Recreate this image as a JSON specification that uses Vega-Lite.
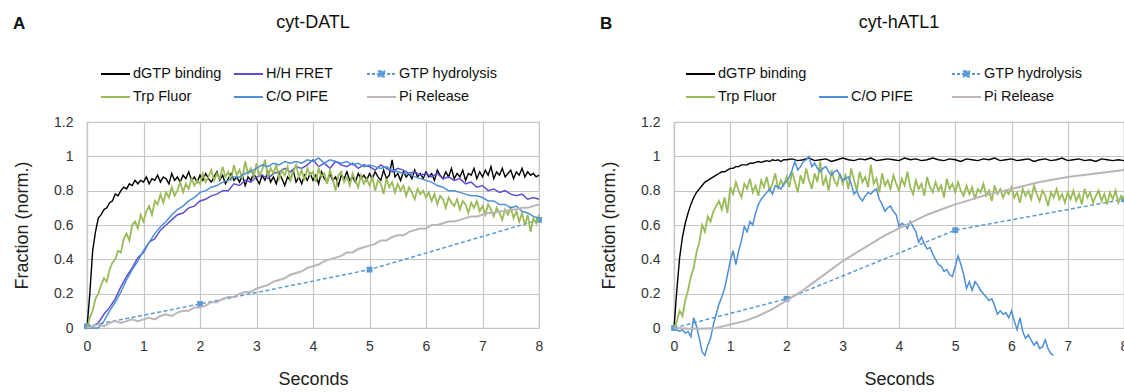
{
"$schema": "https://vega.github.io/schema/vega-lite/v6.json",
"padding": {"left": 12, "top": 13, "right": 0, "bottom": 0},
"background": "white",
"config": {
  "font": "Liberation Sans",
  "view": {"stroke": "#c6c6c6", "strokeWidth": 1.2},
  "axis": {"gridColor": "#c6c6c6", "gridWidth": 1.2, "domainColor": "#c6c6c6", "domainWidth": 1.2, "ticks": false, "labelFont": "Liberation Sans", "labelFontSize": 14, "labelColor": "#333333", "titleFont": "Liberation Sans", "titleFontSize": 18, "titleFontWeight": "normal", "titleColor": "#222222", "labelFlush": false},
  "title": {"font": "Liberation Sans", "fontWeight": "normal", "color": "#111111"},
  "legend": {"padding": 0}
},
"resolve": {"scale": {"color": "independent", "x": "independent", "y": "independent"}, "legend": {"color": "independent"}},
"spacing": 55,
"datasets": {
"A_dgtp": [{"t":0,"v":0},{"t":0.05,"v":0.2},{"t":0.1,"v":0.45},{"t":0.15,"v":0.56},{"t":0.2,"v":0.64},{"t":0.25,"v":0.66},{"t":0.3,"v":0.69},{"t":0.35,"v":0.7},{"t":0.4,"v":0.73},{"t":0.45,"v":0.74},{"t":0.5,"v":0.78},{"t":0.55,"v":0.77},{"t":0.6,"v":0.8},{"t":0.65,"v":0.82},{"t":0.7,"v":0.81},{"t":0.75,"v":0.84},{"t":0.8,"v":0.83},{"t":0.85,"v":0.86},{"t":0.9,"v":0.84},{"t":0.95,"v":0.86},
{"t":1,"v":0.85},{"t":1.05,"v":0.88},{"t":1.1,"v":0.84},{"t":1.15,"v":0.87},{"t":1.2,"v":0.86},{"t":1.25,"v":0.89},{"t":1.3,"v":0.85},{"t":1.35,"v":0.88},{"t":1.4,"v":0.87},{"t":1.45,"v":0.84},{"t":1.5,"v":0.9},{"t":1.55,"v":0.86},{"t":1.6,"v":0.88},{"t":1.65,"v":0.85},{"t":1.7,"v":0.89},{"t":1.75,"v":0.87},{"t":1.8,"v":0.91},{"t":1.85,"v":0.86},{"t":1.9,"v":0.88},{"t":1.95,"v":0.85},
{"t":2,"v":0.89},{"t":2.05,"v":0.86},{"t":2.1,"v":0.9},{"t":2.15,"v":0.87},{"t":2.2,"v":0.85},{"t":2.25,"v":0.88},{"t":2.3,"v":0.91},{"t":2.35,"v":0.86},{"t":2.4,"v":0.89},{"t":2.45,"v":0.84},{"t":2.5,"v":0.87},{"t":2.55,"v":0.9},{"t":2.6,"v":0.86},{"t":2.65,"v":0.88},{"t":2.7,"v":0.85},{"t":2.75,"v":0.89},{"t":2.8,"v":0.83},{"t":2.85,"v":0.88},{"t":2.9,"v":0.86},{"t":2.95,"v":0.9},
{"t":3,"v":0.87},{"t":3.05,"v":0.84},{"t":3.1,"v":0.89},{"t":3.15,"v":0.86},{"t":3.2,"v":0.91},{"t":3.25,"v":0.85},{"t":3.3,"v":0.88},{"t":3.35,"v":0.84},{"t":3.4,"v":0.9},{"t":3.45,"v":0.87},{"t":3.5,"v":0.83},{"t":3.55,"v":0.88},{"t":3.6,"v":0.86},{"t":3.65,"v":0.92},{"t":3.7,"v":0.85},{"t":3.75,"v":0.88},{"t":3.8,"v":0.84},{"t":3.85,"v":0.89},{"t":3.9,"v":0.86},{"t":3.95,"v":0.9},
{"t":4,"v":0.86},{"t":4.05,"v":0.89},{"t":4.1,"v":0.84},{"t":4.15,"v":0.91},{"t":4.2,"v":0.87},{"t":4.25,"v":0.85},{"t":4.3,"v":0.9},{"t":4.35,"v":0.86},{"t":4.4,"v":0.88},{"t":4.45,"v":0.83},{"t":4.5,"v":0.89},{"t":4.55,"v":0.87},{"t":4.6,"v":0.91},{"t":4.65,"v":0.86},{"t":4.7,"v":0.88},{"t":4.75,"v":0.85},{"t":4.8,"v":0.9},{"t":4.85,"v":0.87},{"t":4.9,"v":0.89},{"t":4.95,"v":0.86},
{"t":5,"v":0.9},{"t":5.05,"v":0.87},{"t":5.1,"v":0.91},{"t":5.15,"v":0.88},{"t":5.2,"v":0.86},{"t":5.25,"v":0.92},{"t":5.3,"v":0.87},{"t":5.35,"v":0.89},{"t":5.4,"v":0.98},{"t":5.45,"v":0.88},{"t":5.5,"v":0.9},{"t":5.55,"v":0.86},{"t":5.6,"v":0.91},{"t":5.65,"v":0.88},{"t":5.7,"v":0.9},{"t":5.75,"v":0.87},{"t":5.8,"v":0.92},{"t":5.85,"v":0.88},{"t":5.9,"v":0.9},{"t":5.95,"v":0.87},
{"t":6,"v":0.91},{"t":6.05,"v":0.88},{"t":6.1,"v":0.9},{"t":6.15,"v":0.86},{"t":6.2,"v":0.92},{"t":6.25,"v":0.89},{"t":6.3,"v":0.87},{"t":6.35,"v":0.91},{"t":6.4,"v":0.88},{"t":6.45,"v":0.93},{"t":6.5,"v":0.87},{"t":6.55,"v":0.9},{"t":6.6,"v":0.88},{"t":6.65,"v":0.92},{"t":6.7,"v":0.86},{"t":6.75,"v":0.9},{"t":6.8,"v":0.89},{"t":6.85,"v":0.93},{"t":6.9,"v":0.87},{"t":6.95,"v":0.91},
{"t":7,"v":0.88},{"t":7.05,"v":0.92},{"t":7.1,"v":0.89},{"t":7.15,"v":0.94},{"t":7.2,"v":0.87},{"t":7.25,"v":0.91},{"t":7.3,"v":0.89},{"t":7.35,"v":0.93},{"t":7.4,"v":0.88},{"t":7.45,"v":0.9},{"t":7.5,"v":0.92},{"t":7.55,"v":0.87},{"t":7.6,"v":0.91},{"t":7.65,"v":0.89},{"t":7.7,"v":0.93},{"t":7.75,"v":0.88},{"t":7.8,"v":0.91},{"t":7.85,"v":0.89},{"t":7.9,"v":0.9},{"t":7.95,"v":0.88},{"t":8,"v":0.89}],
"A_trp": [{"t":0,"v":0},{"t":0.05,"v":0.06},{"t":0.1,"v":0.1},{"t":0.15,"v":0.17},{"t":0.2,"v":0.2},{"t":0.25,"v":0.25},{"t":0.3,"v":0.29},{"t":0.35,"v":0.27},{"t":0.4,"v":0.34},{"t":0.45,"v":0.38},{"t":0.5,"v":0.4},{"t":0.55,"v":0.45},{"t":0.6,"v":0.44},{"t":0.65,"v":0.52},{"t":0.7,"v":0.55},{"t":0.75,"v":0.51},{"t":0.8,"v":0.6},{"t":0.85,"v":0.62},{"t":0.9,"v":0.58},{"t":0.95,"v":0.66},
{"t":1,"v":0.62},{"t":1.05,"v":0.68},{"t":1.1,"v":0.71},{"t":1.15,"v":0.66},{"t":1.2,"v":0.74},{"t":1.25,"v":0.72},{"t":1.3,"v":0.78},{"t":1.35,"v":0.73},{"t":1.4,"v":0.79},{"t":1.45,"v":0.76},{"t":1.5,"v":0.82},{"t":1.55,"v":0.77},{"t":1.6,"v":0.8},{"t":1.65,"v":0.85},{"t":1.7,"v":0.79},{"t":1.75,"v":0.84},{"t":1.8,"v":0.81},{"t":1.85,"v":0.87},{"t":1.9,"v":0.83},{"t":1.95,"v":0.86},
{"t":2,"v":0.84},{"t":2.05,"v":0.9},{"t":2.1,"v":0.85},{"t":2.15,"v":0.88},{"t":2.2,"v":0.92},{"t":2.25,"v":0.86},{"t":2.3,"v":0.9},{"t":2.35,"v":0.87},{"t":2.4,"v":0.94},{"t":2.45,"v":0.88},{"t":2.5,"v":0.91},{"t":2.55,"v":0.86},{"t":2.6,"v":0.95},{"t":2.65,"v":0.89},{"t":2.7,"v":0.92},{"t":2.75,"v":0.87},{"t":2.8,"v":0.97},{"t":2.85,"v":0.9},{"t":2.9,"v":0.93},{"t":2.95,"v":0.88},
{"t":3,"v":0.96},{"t":3.05,"v":0.89},{"t":3.1,"v":0.92},{"t":3.15,"v":0.98},{"t":3.2,"v":0.88},{"t":3.25,"v":0.93},{"t":3.3,"v":0.9},{"t":3.35,"v":0.95},{"t":3.4,"v":0.87},{"t":3.45,"v":0.92},{"t":3.5,"v":0.89},{"t":3.55,"v":0.94},{"t":3.6,"v":0.86},{"t":3.65,"v":0.91},{"t":3.7,"v":0.95},{"t":3.75,"v":0.88},{"t":3.8,"v":0.92},{"t":3.85,"v":0.86},{"t":3.9,"v":0.93},{"t":3.95,"v":0.89},
{"t":4,"v":0.91},{"t":4.05,"v":0.85},{"t":4.1,"v":0.93},{"t":4.15,"v":0.88},{"t":4.2,"v":0.9},{"t":4.25,"v":0.84},{"t":4.3,"v":0.92},{"t":4.35,"v":0.87},{"t":4.4,"v":0.8},{"t":4.45,"v":0.89},{"t":4.5,"v":0.91},{"t":4.55,"v":0.85},{"t":4.6,"v":0.88},{"t":4.65,"v":0.83},{"t":4.7,"v":0.9},{"t":4.75,"v":0.86},{"t":4.8,"v":0.82},{"t":4.85,"v":0.89},{"t":4.9,"v":0.84},{"t":4.95,"v":0.87},
{"t":5,"v":0.83},{"t":5.05,"v":0.88},{"t":5.1,"v":0.8},{"t":5.15,"v":0.86},{"t":5.2,"v":0.84},{"t":5.25,"v":0.78},{"t":5.3,"v":0.87},{"t":5.35,"v":0.82},{"t":5.4,"v":0.85},{"t":5.45,"v":0.79},{"t":5.5,"v":0.84},{"t":5.55,"v":0.8},{"t":5.6,"v":0.83},{"t":5.65,"v":0.77},{"t":5.7,"v":0.82},{"t":5.75,"v":0.79},{"t":5.8,"v":0.75},{"t":5.85,"v":0.81},{"t":5.9,"v":0.78},{"t":5.95,"v":0.8},
{"t":6,"v":0.76},{"t":6.05,"v":0.79},{"t":6.1,"v":0.74},{"t":6.15,"v":0.78},{"t":6.2,"v":0.72},{"t":6.25,"v":0.77},{"t":6.3,"v":0.75},{"t":6.35,"v":0.7},{"t":6.4,"v":0.76},{"t":6.45,"v":0.73},{"t":6.5,"v":0.71},{"t":6.55,"v":0.75},{"t":6.6,"v":0.69},{"t":6.65,"v":0.74},{"t":6.7,"v":0.72},{"t":6.75,"v":0.67},{"t":6.8,"v":0.73},{"t":6.85,"v":0.7},{"t":6.9,"v":0.74},{"t":6.95,"v":0.68},
{"t":7,"v":0.71},{"t":7.05,"v":0.66},{"t":7.1,"v":0.72},{"t":7.15,"v":0.69},{"t":7.2,"v":0.65},{"t":7.25,"v":0.7},{"t":7.3,"v":0.67},{"t":7.35,"v":0.63},{"t":7.4,"v":0.69},{"t":7.45,"v":0.66},{"t":7.5,"v":0.7},{"t":7.55,"v":0.64},{"t":7.6,"v":0.68},{"t":7.65,"v":0.62},{"t":7.7,"v":0.67},{"t":7.75,"v":0.6},{"t":7.8,"v":0.66},{"t":7.85,"v":0.56},{"t":7.9,"v":0.64},{"t":7.95,"v":0.61},{"t":8,"v":0.66}],
"A_hh": [{"t":0,"v":0},{"t":0.1,"v":0.01},{"t":0.2,"v":0.03},{"t":0.3,"v":0.08},{"t":0.4,"v":0.12},{"t":0.5,"v":0.17},{"t":0.6,"v":0.24},{"t":0.7,"v":0.3},{"t":0.8,"v":0.35},{"t":0.9,"v":0.41},{"t":1,"v":0.44},{"t":1.1,"v":0.5},{"t":1.2,"v":0.52},{"t":1.3,"v":0.57},{"t":1.4,"v":0.6},{"t":1.5,"v":0.63},{"t":1.6,"v":0.66},{"t":1.7,"v":0.67},{"t":1.8,"v":0.7},{"t":1.9,"v":0.71},{"t":2,"v":0.74},{"t":2.1,"v":0.75},{"t":2.2,"v":0.77},{"t":2.3,"v":0.78},{"t":2.4,"v":0.8},{"t":2.5,"v":0.8},{"t":2.6,"v":0.84},{"t":2.7,"v":0.83},{"t":2.8,"v":0.86},{"t":2.9,"v":0.85},{"t":3,"v":0.88},{"t":3.1,"v":0.89},{"t":3.2,"v":0.87},{"t":3.3,"v":0.9},{"t":3.4,"v":0.91},{"t":3.5,"v":0.93},{"t":3.6,"v":0.91},{"t":3.7,"v":0.94},{"t":3.8,"v":0.93},{"t":3.9,"v":0.95},{"t":4,"v":0.98},{"t":4.1,"v":0.94},{"t":4.2,"v":0.96},{"t":4.3,"v":0.93},{"t":4.4,"v":0.97},{"t":4.5,"v":0.95},{"t":4.6,"v":0.94},{"t":4.7,"v":0.96},{"t":4.8,"v":0.93},{"t":4.9,"v":0.95},{"t":5,"v":0.94},{"t":5.1,"v":0.92},{"t":5.2,"v":0.95},{"t":5.3,"v":0.93},{"t":5.4,"v":0.91},{"t":5.5,"v":0.93},{"t":5.6,"v":0.92},{"t":5.7,"v":0.9},{"t":5.8,"v":0.91},{"t":5.9,"v":0.89},{"t":6,"v":0.9},{"t":6.1,"v":0.88},{"t":6.2,"v":0.9},{"t":6.3,"v":0.87},{"t":6.4,"v":0.88},{"t":6.5,"v":0.86},{"t":6.6,"v":0.87},{"t":6.7,"v":0.84},{"t":6.8,"v":0.85},{"t":6.9,"v":0.82},{"t":7,"v":0.83},{"t":7.1,"v":0.8},{"t":7.2,"v":0.81},{"t":7.3,"v":0.79},{"t":7.4,"v":0.8},{"t":7.5,"v":0.78},{"t":7.6,"v":0.77},{"t":7.7,"v":0.78},{"t":7.8,"v":0.75},{"t":7.9,"v":0.76},{"t":8,"v":0.75}],
"A_co": [{"t":0,"v":0},{"t":0.1,"v":0},{"t":0.2,"v":0},{"t":0.3,"v":0.04},{"t":0.4,"v":0.1},{"t":0.5,"v":0.15},{"t":0.6,"v":0.21},{"t":0.7,"v":0.28},{"t":0.8,"v":0.34},{"t":0.9,"v":0.39},{"t":1,"v":0.45},{"t":1.1,"v":0.5},{"t":1.2,"v":0.55},{"t":1.3,"v":0.59},{"t":1.4,"v":0.62},{"t":1.5,"v":0.66},{"t":1.6,"v":0.69},{"t":1.7,"v":0.71},{"t":1.8,"v":0.74},{"t":1.9,"v":0.76},{"t":2,"v":0.79},{"t":2.1,"v":0.8},{"t":2.2,"v":0.82},{"t":2.3,"v":0.83},{"t":2.4,"v":0.85},{"t":2.5,"v":0.86},{"t":2.6,"v":0.88},{"t":2.7,"v":0.88},{"t":2.8,"v":0.9},{"t":2.9,"v":0.91},{"t":3,"v":0.93},{"t":3.1,"v":0.95},{"t":3.2,"v":0.94},{"t":3.3,"v":0.96},{"t":3.4,"v":0.95},{"t":3.5,"v":0.97},{"t":3.6,"v":0.96},{"t":3.7,"v":0.97},{"t":3.8,"v":0.96},{"t":3.9,"v":0.98},{"t":4,"v":0.97},{"t":4.1,"v":0.99},{"t":4.2,"v":0.96},{"t":4.3,"v":0.98},{"t":4.4,"v":0.97},{"t":4.5,"v":0.96},{"t":4.6,"v":0.97},{"t":4.7,"v":0.95},{"t":4.8,"v":0.96},{"t":4.9,"v":0.94},{"t":5,"v":0.95},{"t":5.1,"v":0.94},{"t":5.2,"v":0.93},{"t":5.3,"v":0.94},{"t":5.4,"v":0.92},{"t":5.5,"v":0.91},{"t":5.6,"v":0.9},{"t":5.7,"v":0.9},{"t":5.8,"v":0.88},{"t":5.9,"v":0.87},{"t":6,"v":0.86},{"t":6.1,"v":0.85},{"t":6.2,"v":0.83},{"t":6.3,"v":0.82},{"t":6.4,"v":0.8},{"t":6.5,"v":0.8},{"t":6.6,"v":0.79},{"t":6.7,"v":0.78},{"t":6.8,"v":0.77},{"t":6.9,"v":0.77},{"t":7,"v":0.76},{"t":7.1,"v":0.74},{"t":7.2,"v":0.74},{"t":7.3,"v":0.72},{"t":7.4,"v":0.72},{"t":7.5,"v":0.7},{"t":7.6,"v":0.71},{"t":7.7,"v":0.68},{"t":7.8,"v":0.67},{"t":7.9,"v":0.65},{"t":8,"v":0.64}],
"A_pi": [{"t":0,"v":0},{"t":0.1,"v":0.01},{"t":0.2,"v":0.02},{"t":0.3,"v":0.01},{"t":0.4,"v":0.03},{"t":0.5,"v":0.04},{"t":0.6,"v":0.03},{"t":0.7,"v":0.04},{"t":0.8,"v":0.05},{"t":0.9,"v":0.04},{"t":1,"v":0.05},{"t":1.1,"v":0.06},{"t":1.2,"v":0.05},{"t":1.3,"v":0.07},{"t":1.4,"v":0.08},{"t":1.5,"v":0.07},{"t":1.6,"v":0.09},{"t":1.7,"v":0.1},{"t":1.8,"v":0.1},{"t":1.9,"v":0.12},{"t":2,"v":0.12},{"t":2.1,"v":0.13},{"t":2.2,"v":0.15},{"t":2.3,"v":0.15},{"t":2.4,"v":0.17},{"t":2.5,"v":0.18},{"t":2.6,"v":0.18},{"t":2.7,"v":0.2},{"t":2.8,"v":0.21},{"t":2.9,"v":0.21},{"t":3,"v":0.23},{"t":3.1,"v":0.24},{"t":3.2,"v":0.25},{"t":3.3,"v":0.27},{"t":3.4,"v":0.28},{"t":3.5,"v":0.29},{"t":3.6,"v":0.31},{"t":3.7,"v":0.32},{"t":3.8,"v":0.33},{"t":3.9,"v":0.35},{"t":4,"v":0.36},{"t":4.1,"v":0.37},{"t":4.2,"v":0.39},{"t":4.3,"v":0.4},{"t":4.4,"v":0.41},{"t":4.5,"v":0.42},{"t":4.6,"v":0.44},{"t":4.7,"v":0.44},{"t":4.8,"v":0.46},{"t":4.9,"v":0.47},{"t":5,"v":0.48},{"t":5.1,"v":0.49},{"t":5.2,"v":0.51},{"t":5.3,"v":0.51},{"t":5.4,"v":0.53},{"t":5.5,"v":0.54},{"t":5.6,"v":0.54},{"t":5.7,"v":0.56},{"t":5.8,"v":0.57},{"t":5.9,"v":0.58},{"t":6,"v":0.58},{"t":6.1,"v":0.6},{"t":6.2,"v":0.6},{"t":6.3,"v":0.61},{"t":6.4,"v":0.62},{"t":6.5,"v":0.62},{"t":6.6,"v":0.63},{"t":6.7,"v":0.64},{"t":6.8,"v":0.65},{"t":6.9,"v":0.65},{"t":7,"v":0.66},{"t":7.1,"v":0.67},{"t":7.2,"v":0.67},{"t":7.3,"v":0.68},{"t":7.4,"v":0.68},{"t":7.5,"v":0.69},{"t":7.6,"v":0.69},{"t":7.7,"v":0.7},{"t":7.8,"v":0.7},{"t":7.9,"v":0.71},{"t":8,"v":0.72}],
"A_gtp": [{"t":0,"v":0.01},{"t":2,"v":0.14},{"t":5,"v":0.34},{"t":8,"v":0.63}],
"B_dgtp": [{"t":0,"v":0},{"t":0.05,"v":0.22},{"t":0.1,"v":0.41},{"t":0.15,"v":0.53},{"t":0.2,"v":0.61},{"t":0.25,"v":0.67},{"t":0.3,"v":0.72},{"t":0.35,"v":0.76},{"t":0.4,"v":0.79},{"t":0.45,"v":0.81},{"t":0.5,"v":0.83},{"t":0.55,"v":0.85},{"t":0.6,"v":0.86},{"t":0.65,"v":0.87},{"t":0.7,"v":0.88},{"t":0.75,"v":0.89},{"t":0.8,"v":0.9},{"t":0.85,"v":0.91},{"t":0.9,"v":0.91},{"t":0.95,"v":0.92},{"t":1,"v":0.93},{"t":1.05,"v":0.93},{"t":1.1,"v":0.94},{"t":1.15,"v":0.94},{"t":1.2,"v":0.95},{"t":1.25,"v":0.95},{"t":1.3,"v":0.95},{"t":1.35,"v":0.96},{"t":1.4,"v":0.96},{"t":1.45,"v":0.965},{"t":1.5,"v":0.97},{"t":1.55,"v":0.965},{"t":1.6,"v":0.97},{"t":1.65,"v":0.975},{"t":1.7,"v":0.97},{"t":1.75,"v":0.98},{"t":1.8,"v":0.975},{"t":1.85,"v":0.98},{"t":1.9,"v":0.97},{"t":1.95,"v":0.98},{"t":2,"v":0.98},
{"t":2.1,"v":0.985},{"t":2.2,"v":0.975},{"t":2.3,"v":0.98},{"t":2.4,"v":0.99},{"t":2.5,"v":0.975},{"t":2.6,"v":0.98},{"t":2.7,"v":0.985},{"t":2.8,"v":0.97},{"t":2.9,"v":0.98},{"t":3,"v":0.99},{"t":3.1,"v":0.98},{"t":3.2,"v":0.975},{"t":3.3,"v":0.985},{"t":3.4,"v":0.98},{"t":3.5,"v":0.99},{"t":3.6,"v":0.975},{"t":3.7,"v":0.98},{"t":3.8,"v":0.985},{"t":3.9,"v":0.98},{"t":4,"v":0.975},{"t":4.1,"v":0.99},{"t":4.2,"v":0.98},{"t":4.3,"v":0.985},{"t":4.4,"v":0.975},{"t":4.5,"v":0.98},{"t":4.6,"v":0.99},{"t":4.7,"v":0.98},{"t":4.8,"v":0.975},{"t":4.9,"v":0.985},{"t":5,"v":0.98},{"t":5.1,"v":0.97},{"t":5.2,"v":0.985},{"t":5.3,"v":0.98},{"t":5.4,"v":0.975},{"t":5.5,"v":0.985},{"t":5.6,"v":0.98},{"t":5.7,"v":0.99},{"t":5.8,"v":0.975},{"t":5.9,"v":0.98},{"t":6,"v":0.985},{"t":6.1,"v":0.975},{"t":6.2,"v":0.98},{"t":6.3,"v":0.985},{"t":6.4,"v":0.97},{"t":6.5,"v":0.98},{"t":6.6,"v":0.985},{"t":6.7,"v":0.975},{"t":6.8,"v":0.98},{"t":6.9,"v":0.99},{"t":7,"v":0.975},{"t":7.1,"v":0.98},{"t":7.2,"v":0.985},{"t":7.3,"v":0.975},{"t":7.4,"v":0.98},{"t":7.5,"v":0.97},{"t":7.6,"v":0.985},{"t":7.7,"v":0.98},{"t":7.8,"v":0.975},{"t":7.9,"v":0.98},{"t":8,"v":0.975}],
"B_trp": [{"t":0,"v":0},{"t":0.05,"v":0.04},{"t":0.1,"v":0.1},{"t":0.15,"v":0.07},{"t":0.2,"v":0.16},{"t":0.25,"v":0.22},{"t":0.3,"v":0.3},{"t":0.35,"v":0.35},{"t":0.4,"v":0.44},{"t":0.45,"v":0.5},{"t":0.5,"v":0.6},{"t":0.55,"v":0.56},{"t":0.6,"v":0.65},{"t":0.65,"v":0.62},{"t":0.7,"v":0.68},{"t":0.75,"v":0.71},{"t":0.8,"v":0.74},{"t":0.85,"v":0.69},{"t":0.9,"v":0.76},{"t":0.95,"v":0.67},
{"t":1,"v":0.82},{"t":1.05,"v":0.78},{"t":1.1,"v":0.85},{"t":1.15,"v":0.8},{"t":1.2,"v":0.76},{"t":1.25,"v":0.84},{"t":1.3,"v":0.81},{"t":1.35,"v":0.87},{"t":1.4,"v":0.79},{"t":1.45,"v":0.83},{"t":1.5,"v":0.77},{"t":1.55,"v":0.86},{"t":1.6,"v":0.82},{"t":1.65,"v":0.88},{"t":1.7,"v":0.8},{"t":1.75,"v":0.84},{"t":1.8,"v":0.9},{"t":1.85,"v":0.81},{"t":1.9,"v":0.86},{"t":1.95,"v":0.83},
{"t":2,"v":0.88},{"t":2.05,"v":0.82},{"t":2.1,"v":0.91},{"t":2.15,"v":0.85},{"t":2.2,"v":0.79},{"t":2.25,"v":0.89},{"t":2.3,"v":0.84},{"t":2.35,"v":0.93},{"t":2.4,"v":0.86},{"t":2.45,"v":0.81},{"t":2.5,"v":0.9},{"t":2.55,"v":0.85},{"t":2.6,"v":0.97},{"t":2.65,"v":0.83},{"t":2.7,"v":0.88},{"t":2.75,"v":0.8},{"t":2.8,"v":0.92},{"t":2.85,"v":0.86},{"t":2.9,"v":0.83},{"t":2.95,"v":0.9},
{"t":3,"v":0.84},{"t":3.05,"v":0.89},{"t":3.1,"v":0.81},{"t":3.15,"v":0.93},{"t":3.2,"v":0.86},{"t":3.25,"v":0.8},{"t":3.3,"v":0.91},{"t":3.35,"v":0.85},{"t":3.4,"v":0.88},{"t":3.45,"v":0.82},{"t":3.5,"v":0.95},{"t":3.55,"v":0.84},{"t":3.6,"v":0.87},{"t":3.65,"v":0.79},{"t":3.7,"v":0.9},{"t":3.75,"v":0.83},{"t":3.8,"v":0.86},{"t":3.85,"v":0.81},{"t":3.9,"v":0.89},{"t":3.95,"v":0.84},
{"t":4,"v":0.8},{"t":4.05,"v":0.87},{"t":4.1,"v":0.83},{"t":4.15,"v":0.91},{"t":4.2,"v":0.82},{"t":4.25,"v":0.78},{"t":4.3,"v":0.86},{"t":4.35,"v":0.81},{"t":4.4,"v":0.84},{"t":4.45,"v":0.77},{"t":4.5,"v":0.88},{"t":4.55,"v":0.82},{"t":4.6,"v":0.79},{"t":4.65,"v":0.85},{"t":4.7,"v":0.8},{"t":4.75,"v":0.83},{"t":4.8,"v":0.76},{"t":4.85,"v":0.87},{"t":4.9,"v":0.81},{"t":4.95,"v":0.84},
{"t":5,"v":0.79},{"t":5.05,"v":0.85},{"t":5.1,"v":0.8},{"t":5.15,"v":0.77},{"t":5.2,"v":0.83},{"t":5.25,"v":0.78},{"t":5.3,"v":0.82},{"t":5.35,"v":0.75},{"t":5.4,"v":0.81},{"t":5.45,"v":0.79},{"t":5.5,"v":0.84},{"t":5.55,"v":0.77},{"t":5.6,"v":0.8},{"t":5.65,"v":0.74},{"t":5.7,"v":0.83},{"t":5.75,"v":0.78},{"t":5.8,"v":0.81},{"t":5.85,"v":0.76},{"t":5.9,"v":0.8},{"t":5.95,"v":0.78},
{"t":6,"v":0.82},{"t":6.05,"v":0.76},{"t":6.1,"v":0.79},{"t":6.15,"v":0.73},{"t":6.2,"v":0.81},{"t":6.25,"v":0.77},{"t":6.3,"v":0.8},{"t":6.35,"v":0.75},{"t":6.4,"v":0.83},{"t":6.45,"v":0.78},{"t":6.5,"v":0.74},{"t":6.55,"v":0.8},{"t":6.6,"v":0.77},{"t":6.65,"v":0.71},{"t":6.7,"v":0.79},{"t":6.75,"v":0.76},{"t":6.8,"v":0.81},{"t":6.85,"v":0.75},{"t":6.9,"v":0.78},{"t":6.95,"v":0.73},
{"t":7,"v":0.79},{"t":7.05,"v":0.75},{"t":7.1,"v":0.8},{"t":7.15,"v":0.74},{"t":7.2,"v":0.78},{"t":7.25,"v":0.72},{"t":7.3,"v":0.81},{"t":7.35,"v":0.76},{"t":7.4,"v":0.79},{"t":7.45,"v":0.73},{"t":7.5,"v":0.77},{"t":7.55,"v":0.8},{"t":7.6,"v":0.74},{"t":7.65,"v":0.78},{"t":7.7,"v":0.72},{"t":7.75,"v":0.79},{"t":7.8,"v":0.75},{"t":7.85,"v":0.8},{"t":7.9,"v":0.73},{"t":7.95,"v":0.77},{"t":8,"v":0.75}],
"B_co": [{"t":0,"v":0},{"t":0.05,"v":-0.01},{"t":0.1,"v":-0.02},{"t":0.15,"v":-0.01},{"t":0.2,"v":-0.03},{"t":0.25,"v":-0.02},{"t":0.3,"v":-0.05},{"t":0.35,"v":0.06},{"t":0.4,"v":0.01},{"t":0.45,"v":-0.06},{"t":0.5,"v":-0.14},{"t":0.55,"v":-0.16},{"t":0.6,"v":-0.1},{"t":0.65,"v":-0.06},{"t":0.7,"v":0.02},{"t":0.75,"v":0.08},{"t":0.8,"v":0.14},{"t":0.85,"v":0.18},{"t":0.9,"v":0.23},{"t":0.95,"v":0.31},{"t":1,"v":0.39},{"t":1.05,"v":0.45},{"t":1.1,"v":0.37},{"t":1.15,"v":0.45},{"t":1.2,"v":0.51},{"t":1.25,"v":0.59},{"t":1.3,"v":0.56},{"t":1.35,"v":0.62},{"t":1.4,"v":0.6},{"t":1.45,"v":0.67},{"t":1.5,"v":0.72},{"t":1.55,"v":0.75},{"t":1.6,"v":0.77},{"t":1.65,"v":0.79},{"t":1.7,"v":0.81},{"t":1.75,"v":0.78},{"t":1.8,"v":0.83},{"t":1.85,"v":0.82},{"t":1.9,"v":0.81},{"t":1.95,"v":0.84},{"t":2,"v":0.85},{"t":2.05,"v":0.88},{"t":2.1,"v":0.92},{"t":2.15,"v":0.97},{"t":2.2,"v":0.92},{"t":2.25,"v":0.94},{"t":2.3,"v":0.97},{"t":2.35,"v":0.98},{"t":2.4,"v":1},{"t":2.45,"v":0.94},{"t":2.5,"v":0.96},{"t":2.55,"v":0.93},{"t":2.6,"v":0.91},{"t":2.65,"v":0.93},{"t":2.7,"v":0.94},{"t":2.75,"v":0.91},{"t":2.8,"v":0.89},{"t":2.85,"v":0.91},{"t":2.9,"v":0.92},{"t":2.95,"v":0.89},{"t":3,"v":0.86},{"t":3.05,"v":0.87},{"t":3.1,"v":0.88},{"t":3.15,"v":0.84},{"t":3.2,"v":0.78},{"t":3.25,"v":0.8},{"t":3.3,"v":0.76},{"t":3.35,"v":0.74},{"t":3.4,"v":0.77},{"t":3.45,"v":0.79},{"t":3.5,"v":0.78},{"t":3.55,"v":0.8},{"t":3.6,"v":0.81},{"t":3.65,"v":0.75},{"t":3.7,"v":0.72},{"t":3.75,"v":0.68},{"t":3.8,"v":0.7},{"t":3.85,"v":0.71},{"t":3.9,"v":0.68},{"t":3.95,"v":0.66},{"t":4,"v":0.59},{"t":4.05,"v":0.61},{"t":4.1,"v":0.6},{"t":4.15,"v":0.58},{"t":4.2,"v":0.62},{"t":4.25,"v":0.59},{"t":4.3,"v":0.56},{"t":4.35,"v":0.5},{"t":4.4,"v":0.53},{"t":4.45,"v":0.49},{"t":4.5,"v":0.46},{"t":4.55,"v":0.47},{"t":4.6,"v":0.43},{"t":4.65,"v":0.4},{"t":4.7,"v":0.37},{"t":4.75,"v":0.36},{"t":4.8,"v":0.33},{"t":4.85,"v":0.34},{"t":4.9,"v":0.31},{"t":4.95,"v":0.3},{"t":5,"v":0.36},{"t":5.05,"v":0.42},{"t":5.1,"v":0.37},{"t":5.15,"v":0.31},{"t":5.2,"v":0.23},{"t":5.25,"v":0.27},{"t":5.3,"v":0.22},{"t":5.35,"v":0.27},{"t":5.4,"v":0.25},{"t":5.45,"v":0.22},{"t":5.5,"v":0.2},{"t":5.55,"v":0.18},{"t":5.6,"v":0.16},{"t":5.65,"v":0.17},{"t":5.7,"v":0.13},{"t":5.75,"v":0.08},{"t":5.8,"v":0.1},{"t":5.85,"v":0.08},{"t":5.9,"v":0.09},{"t":5.95,"v":0.06},{"t":6,"v":0.1},{"t":6.05,"v":0.04},{"t":6.1,"v":-0.01},{"t":6.15,"v":0.06},{"t":6.2,"v":-0.02},{"t":6.25,"v":-0.06},{"t":6.3,"v":-0.04},{"t":6.35,"v":-0.07},{"t":6.4,"v":-0.1},{"t":6.45,"v":-0.08},{"t":6.5,"v":-0.12},{"t":6.55,"v":-0.11},{"t":6.6,"v":-0.07},{"t":6.65,"v":-0.12},{"t":6.7,"v":-0.15},{"t":6.75,"v":-0.16}],
"B_pi": [{"t":0,"v":0},{"t":0.25,"v":-0.005},{"t":0.5,"v":-0.005},{"t":0.75,"v":0},{"t":1,"v":0.02},{"t":1.25,"v":0.04},{"t":1.5,"v":0.07},{"t":1.75,"v":0.11},{"t":2,"v":0.16},{"t":2.25,"v":0.21},{"t":2.5,"v":0.27},{"t":2.75,"v":0.33},{"t":3,"v":0.39},{"t":3.25,"v":0.44},{"t":3.5,"v":0.49},{"t":3.75,"v":0.54},{"t":4,"v":0.58},{"t":4.25,"v":0.62},{"t":4.5,"v":0.66},{"t":4.75,"v":0.69},{"t":5,"v":0.72},{"t":5.25,"v":0.745},{"t":5.5,"v":0.77},{"t":5.75,"v":0.79},{"t":6,"v":0.81},{"t":6.25,"v":0.83},{"t":6.5,"v":0.85},{"t":6.75,"v":0.865},{"t":7,"v":0.88},{"t":7.25,"v":0.89},{"t":7.5,"v":0.9},{"t":7.75,"v":0.91},{"t":8,"v":0.92}],
"B_gtp": [{"t":0,"v":0},{"t":2,"v":0.17},{"t":5,"v":0.57},{"t":8,"v":0.75}]
},
"hconcat": [
{
  "title": {"text": "A", "anchor": "start", "frame": "bounds", "fontSize": 17, "fontWeight": "bold", "offset": -20},
  "hconcat": [{
    "width": 452, "height": 206,
    "title": {"text": "cyt-DATL", "anchor": "middle", "frame": "group", "fontSize": 18, "offset": 83},
    "encoding": {
      "x": {"field": "t", "type": "quantitative", "scale": {"domain": [0, 8], "nice": false}, "axis": {"title": "Seconds", "values": [0,1,2,3,4,5,6,7,8], "format": "d", "labelPadding": 11, "titlePadding": 17}},
      "y": {"field": "v", "type": "quantitative", "scale": {"domain": [0, 1.2], "nice": false}, "axis": {"title": "Fraction (norm.)", "values": [0,0.2,0.4,0.6,0.8,1,1.2], "format": "~g", "labelPadding": 14, "titlePadding": 22}}
    },
    "layer": [
      {"data": {"name": "A_dgtp"}, "mark": {"type": "line", "strokeWidth": 1.4},
       "encoding": {"color": {"datum": "dGTP binding", "type": "nominal",
         "scale": {"domain": ["dGTP binding","H/H FRET","GTP hydrolysis","Trp Fluor","C/O PIFE","Pi Release"], "range": ["#000000","#5B4FD6","#5B9BD5","#9BBB59","#4F8FD6","#BDB4B8"]},
         "legend": {"orient": "none", "legendX": 20, "legendY": -57, "columns": 3, "direction": "horizontal", "gridAlign": "all", "columnPadding": -2, "rowPadding": 7.5, "title": null, "symbolType": "M-2,0H2", "symbolSize": 210, "symbolStrokeWidth": 2, "labelFontSize": 14.5, "labelOffset": 9, "labelColor": "#111111", "labelLimit": 200,
           "encode": {"symbols": {"update": {
             "shape": {"signal": "datum.value === 'GTP hydrolysis' ? 'M-2,0H2M-0.36,-0.36H0.36V0.36H-0.36Z' : 'M-2,0H2'"},
             "fill": {"signal": "datum.value === 'GTP hydrolysis' ? '#5B9BD5' : 'transparent'"},
             "strokeDash": {"signal": "datum.value === 'GTP hydrolysis' ? [3,2] : [1,0]"},
             "strokeWidth": {"value": 2}}}}}}}},
      {"data": {"name": "A_hh"}, "mark": {"type": "line", "strokeWidth": 1.5}, "encoding": {"color": {"datum": "H/H FRET", "type": "nominal"}}},
      {"data": {"name": "A_gtp"}, "mark": {"type": "line", "strokeWidth": 1.5, "strokeDash": [4, 2.5]}, "encoding": {"color": {"datum": "GTP hydrolysis", "type": "nominal"}}},
      {"data": {"name": "A_gtp"}, "mark": {"type": "point", "shape": "square", "filled": true, "size": 34, "opacity": 1}, "encoding": {"color": {"datum": "GTP hydrolysis", "type": "nominal"}}},
      {"data": {"name": "A_trp"}, "mark": {"type": "line", "strokeWidth": 1.8}, "encoding": {"color": {"datum": "Trp Fluor", "type": "nominal"}}},
      {"data": {"name": "A_co"}, "mark": {"type": "line", "strokeWidth": 1.5}, "encoding": {"color": {"datum": "C/O PIFE", "type": "nominal"}}},
      {"data": {"name": "A_pi"}, "mark": {"type": "line", "strokeWidth": 2}, "encoding": {"color": {"datum": "Pi Release", "type": "nominal"}}}
    ]
  }]
},
{
  "title": {"text": "B", "anchor": "start", "frame": "bounds", "fontSize": 17, "fontWeight": "bold", "offset": -20},
  "hconcat": [{
    "width": 450, "height": 206,
    "title": {"text": "cyt-hATL1", "anchor": "middle", "frame": "group", "fontSize": 18, "offset": 83},
    "encoding": {
      "x": {"field": "t", "type": "quantitative", "scale": {"domain": [0, 8], "nice": false}, "axis": {"title": "Seconds", "values": [0,1,2,3,4,5,6,7,8], "format": "d", "labelPadding": 11, "titlePadding": 17}},
      "y": {"field": "v", "type": "quantitative", "scale": {"domain": [0, 1.2], "nice": false}, "axis": {"title": "Fraction (norm.)", "values": [0,0.2,0.4,0.6,0.8,1,1.2], "format": "~g", "labelPadding": 14, "titlePadding": 22}}
    },
    "layer": [
      {"data": {"name": "B_dgtp"}, "mark": {"type": "line", "strokeWidth": 1.4},
       "encoding": {"color": {"datum": "dGTP binding", "type": "nominal",
         "scale": {"domain": ["dGTP binding","H/H FRET","GTP hydrolysis","Trp Fluor","C/O PIFE","Pi Release"], "range": ["#000000","#5B4FD6","#5B9BD5","#9BBB59","#4F8FD6","#BDB4B8"]},
         "legend": {"orient": "none", "legendX": 18, "legendY": -57, "columns": 3, "direction": "horizontal", "gridAlign": "all", "columnPadding": -2, "rowPadding": 7.5, "title": null, "symbolType": "M-2,0H2", "symbolSize": 210, "symbolStrokeWidth": 2, "labelFontSize": 14.5, "labelOffset": 9, "labelColor": "#111111", "labelLimit": 200,
           "labelExpr": "datum.label === 'H/H FRET' ? '' : datum.label",
           "encode": {"symbols": {"update": {
             "shape": {"signal": "datum.value === 'GTP hydrolysis' ? 'M-2,0H2M-0.36,-0.36H0.36V0.36H-0.36Z' : 'M-2,0H2'"},
             "fill": {"signal": "datum.value === 'GTP hydrolysis' ? '#5B9BD5' : 'transparent'"},
             "strokeDash": {"signal": "datum.value === 'GTP hydrolysis' ? [3,2] : [1,0]"},
             "opacity": {"signal": "datum.value === 'H/H FRET' ? 0 : 1"},
             "strokeWidth": {"value": 2}}}}}}}},
      {"data": {"name": "B_gtp"}, "mark": {"type": "line", "strokeWidth": 1.5, "strokeDash": [4, 2.5]}, "encoding": {"color": {"datum": "GTP hydrolysis", "type": "nominal"}}},
      {"data": {"name": "B_gtp"}, "mark": {"type": "point", "shape": "square", "filled": true, "size": 34, "opacity": 1}, "encoding": {"color": {"datum": "GTP hydrolysis", "type": "nominal"}}},
      {"data": {"name": "B_trp"}, "mark": {"type": "line", "strokeWidth": 1.8}, "encoding": {"color": {"datum": "Trp Fluor", "type": "nominal"}}},
      {"data": {"name": "B_co"}, "mark": {"type": "line", "strokeWidth": 1.5}, "encoding": {"color": {"datum": "C/O PIFE", "type": "nominal"}}},
      {"data": {"name": "B_pi"}, "mark": {"type": "line", "strokeWidth": 2}, "encoding": {"color": {"datum": "Pi Release", "type": "nominal"}}}
    ]
  }]
}
]
}
